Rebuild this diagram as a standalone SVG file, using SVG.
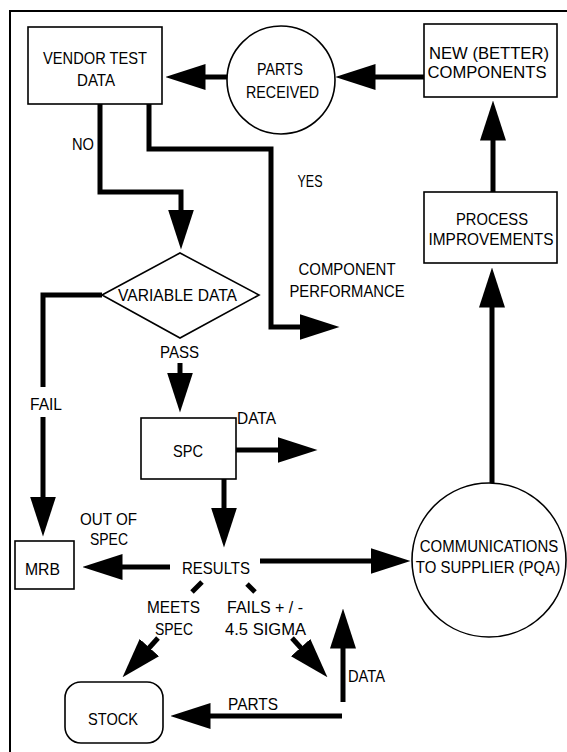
<svg xmlns="http://www.w3.org/2000/svg" width="567" height="752" viewBox="0 0 567 752">
<style>
.n{fill:#fff;stroke:#000;stroke-width:1.6}
.c{fill:none;stroke:#000;stroke-width:5;stroke-linejoin:miter;stroke-linecap:butt}
text{font-family:"Liberation Sans",Arial,sans-serif;font-size:17px;fill:#000;text-anchor:middle}
</style>
<defs>
<marker id="ah" markerUnits="userSpaceOnUse" viewBox="0 0 40 26" markerWidth="40" markerHeight="26" refX="0.5" refY="13" orient="auto">
<path d="M0,0 L40,13 L0,26 Z" fill="#000"/>
</marker>
</defs>
<rect width="567" height="752" fill="#fff"/>
<path d="M10,752 V11 H567" fill="none" stroke="#000" stroke-width="2"/>

<g id="connectors">
<path class="c" d="M227,77 H205" marker-end="url(#ah)"/>
<path class="c" d="M424,77 H375" marker-end="url(#ah)"/>
<path class="c" d="M493,192 V140" marker-end="url(#ah)"/>
<path class="c" d="M492,484 V307" marker-end="url(#ah)"/>
<path class="c" d="M100,104 V192 H181 V210" marker-end="url(#ah)"/>
<path class="c" d="M149,104 V149 H271 V327 H300" marker-end="url(#ah)"/>
<path class="c" d="M102,295 H43 V387"/>
<path class="c" d="M43,417 V497" marker-end="url(#ah)"/>
<path class="c" d="M180,363 V373" marker-end="url(#ah)"/>
<path class="c" d="M236,450 H278" marker-end="url(#ah)"/>
<path class="c" d="M224,479 V508" marker-end="url(#ah)"/>
<path class="c" d="M170,567 H122" marker-end="url(#ah)"/>
<path class="c" d="M260,561 H371" marker-end="url(#ah)"/>
<path class="c" d="M343,702 V648" marker-end="url(#ah)"/>
<path class="c" d="M342,716 H210" marker-end="url(#ah)"/>
<path class="c" d="M202,582 L192,592"/>
<path class="c" d="M158,638 L149,648" marker-end="url(#ah)"/>
<path class="c" d="M247,584 L255,592"/>
<path class="c" d="M292,638 L301,648" marker-end="url(#ah)"/>
<text x="83" y="150" textLength="22" lengthAdjust="spacingAndGlyphs">NO</text>
<text x="310" y="187" textLength="25" lengthAdjust="spacingAndGlyphs">YES</text>
<text x="347" y="275" textLength="97" lengthAdjust="spacingAndGlyphs">COMPONENT</text>
<text x="347" y="297" textLength="115" lengthAdjust="spacingAndGlyphs">PERFORMANCE</text>
<text x="46" y="410" textLength="32" lengthAdjust="spacingAndGlyphs">FAIL</text>
<text x="179.5" y="358" textLength="39" lengthAdjust="spacingAndGlyphs">PASS</text>
<text x="256.5" y="424" textLength="39" lengthAdjust="spacingAndGlyphs">DATA</text>
<text x="108.5" y="525" textLength="57" lengthAdjust="spacingAndGlyphs">OUT OF</text>
<text x="109" y="545" textLength="38" lengthAdjust="spacingAndGlyphs">SPEC</text>
<text x="173.5" y="613" textLength="53" lengthAdjust="spacingAndGlyphs">MEETS</text>
<text x="174" y="635" textLength="38" lengthAdjust="spacingAndGlyphs">SPEC</text>
<text x="265" y="613" textLength="76" lengthAdjust="spacingAndGlyphs">FAILS + / -</text>
<text x="265.5" y="635" textLength="81" lengthAdjust="spacingAndGlyphs">4.5 SIGMA</text>
<text x="366.5" y="682" textLength="37" lengthAdjust="spacingAndGlyphs">DATA</text>
<text x="253" y="710" textLength="50" lengthAdjust="spacingAndGlyphs">PARTS</text>
</g>

<g id="vendor-test-data">
<rect class="n" x="28" y="27" width="134" height="77"/>
<text x="95" y="64" textLength="104" lengthAdjust="spacingAndGlyphs">VENDOR TEST</text>
<text x="96" y="86" textLength="38" lengthAdjust="spacingAndGlyphs">DATA</text>
</g>
<g id="parts-received">
<circle class="n" cx="281" cy="80" r="54"/>
<text x="280" y="75" textLength="46" lengthAdjust="spacingAndGlyphs">PARTS</text>
<text x="282.5" y="98" textLength="73" lengthAdjust="spacingAndGlyphs">RECEIVED</text>
</g>
<g id="new-components">
<rect class="n" x="424" y="24" width="133" height="73"/>
<text x="489" y="59" textLength="120" lengthAdjust="spacingAndGlyphs">NEW (BETTER)</text>
<text x="487" y="78" textLength="119" lengthAdjust="spacingAndGlyphs">COMPONENTS</text>
</g>
<g id="process-improvements">
<rect class="n" x="424" y="192" width="133" height="71"/>
<text x="492" y="225" textLength="72" lengthAdjust="spacingAndGlyphs">PROCESS</text>
<text x="491" y="245" textLength="125" lengthAdjust="spacingAndGlyphs">IMPROVEMENTS</text>
</g>
<g id="variable-data">
<polygon class="n" points="102,295 180,253 259,295 180,338"/>
<text x="177.5" y="301" textLength="119" lengthAdjust="spacingAndGlyphs">VARIABLE DATA</text>
</g>
<g id="spc">
<rect class="n" x="141" y="418" width="95" height="61"/>
<text x="188" y="457" textLength="30" lengthAdjust="spacingAndGlyphs">SPC</text>
</g>
<g id="mrb">
<rect class="n" x="15" y="541" width="59" height="48"/>
<text x="42.5" y="575" textLength="35" lengthAdjust="spacingAndGlyphs">MRB</text>
</g>
<g id="results">
<text x="216" y="574" textLength="68" lengthAdjust="spacingAndGlyphs">RESULTS</text>
</g>
<g id="communications">
<circle class="n" cx="489" cy="560" r="77"/>
<text transform="translate(489,552) scale(0.88,1)" x="0" y="0">COMMUNICATIONS</text>
<text transform="translate(488,573) scale(0.88,1)" x="0" y="0">TO SUPPLIER (PQA)</text>
</g>
<g id="stock">
<rect class="n" x="65" y="682" width="98" height="61" rx="16" ry="16"/>
<text x="113" y="725" textLength="50" lengthAdjust="spacingAndGlyphs">STOCK</text>
</g>
</svg>
